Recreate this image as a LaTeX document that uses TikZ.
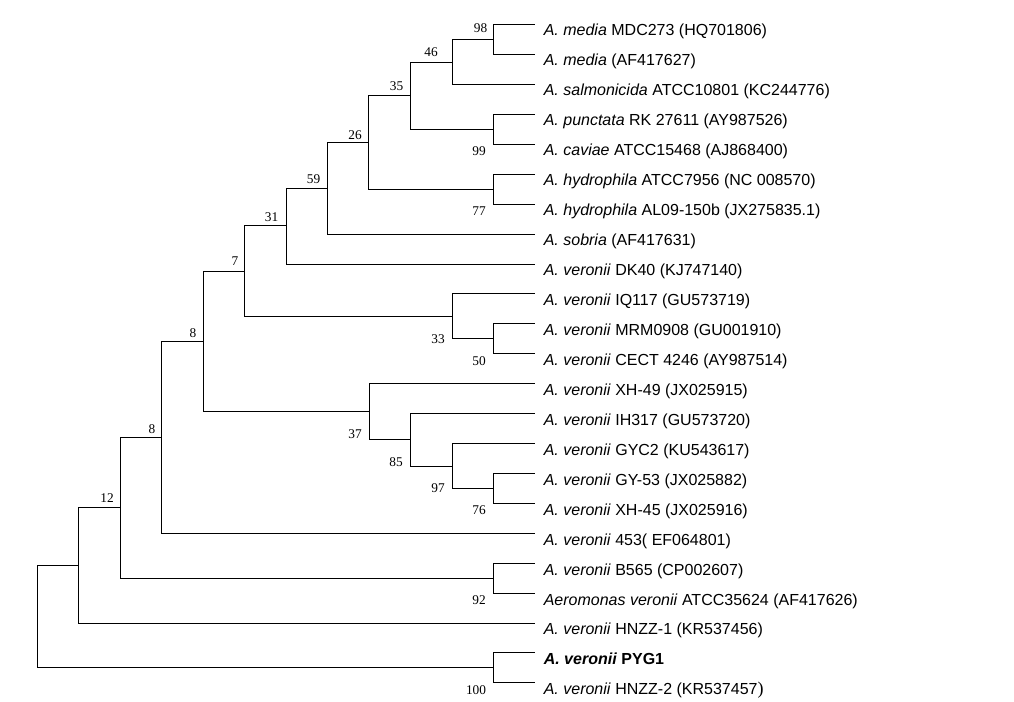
\documentclass[tikz,border=0pt]{standalone}
\usepackage{fontspec}
\setmainfont{Liberation Serif}
\newfontfamily\taxfont{Liberation Sans}
\usepackage{tikz}
\usetikzlibrary{positioning}
\usepackage{xcolor}
\definecolor{treeblack}{RGB}{0,0,0}
\tikzstyle{branch} = [line width=0.75pt, color=treeblack]
\tikzstyle{taxon} = [anchor=base west, inner sep=0pt, xshift=6.4pt, yshift=-8.8pt, font=\taxfont\fontsize{12}{14}\selectfont]
\tikzstyle{boot} = [inner sep=0pt, font=\fontsize{10}{12}\selectfont]

\begin{document}
\begin{tikzpicture}[x=0.75pt, y=-0.75pt]
\useasboundingbox (0,0) rectangle (1014,701);

% leaf tips
\coordinate (l1) at (535,24);
\coordinate (l2) at (535,54);
\coordinate (l3) at (535,84);
\coordinate (l4) at (535,114);
\coordinate (l5) at (535,144);
\coordinate (l6) at (535,174);
\coordinate (l7) at (535,204);
\coordinate (l8) at (535,234);
\coordinate (l9) at (535,264);
\coordinate (l10) at (535,293.5);
\coordinate (l11) at (535,323.5);
\coordinate (l12) at (535,353.5);
\coordinate (l13) at (535,383.3);
\coordinate (l14) at (535,413.3);
\coordinate (l15) at (535,443.3);
\coordinate (l16) at (535,473.3);
\coordinate (l17) at (535,503.3);
\coordinate (l18) at (535,533.3);
\coordinate (l19) at (535,563.3);
\coordinate (l20) at (535,593.3);
\coordinate (l21) at (535,623);
\coordinate (l22) at (535,652.3);
\coordinate (l23) at (535,682.3);

% taxon names
\node[taxon] (t1) at (l1) {\textit{A. media} MDC273 (HQ701806)};
\node[taxon] (t2) at (l2) {\textit{A. media} (AF417627)};
\node[taxon] (t3) at (l3) {\textit{A. salmonicida} ATCC10801 (KC244776)};
\node[taxon] (t4) at (l4) {\textit{A. punctata} RK 27611 (AY987526)};
\node[taxon] (t5) at (l5) {\textit{A. caviae} ATCC15468 (AJ868400)};
\node[taxon] (t6) at (l6) {\textit{A. hydrophila} ATCC7956 (NC 008570)};
\node[taxon] (t7) at (l7) {\textit{A. hydrophila} AL09-150b (JX275835.1)};
\node[taxon] (t8) at (l8) {\textit{A. sobria} (AF417631)};
\node[taxon] (t9) at (l9) {\textit{A. veronii} DK40 (KJ747140)};
\node[taxon] (t10) at (l10) {\textit{A. veronii} IQ117 (GU573719)};
\node[taxon] (t11) at (l11) {\textit{A. veronii} MRM0908 (GU001910)};
\node[taxon] (t12) at (l12) {\textit{A. veronii} CECT 4246 (AY987514)};
\node[taxon] (t13) at (l13) {\textit{A. veronii} XH-49 (JX025915)};
\node[taxon] (t14) at (l14) {\textit{A. veronii} IH317 (GU573720)};
\node[taxon] (t15) at (l15) {\textit{A. veronii} GYC2 (KU543617)};
\node[taxon] (t16) at (l16) {\textit{A. veronii} GY-53 (JX025882)};
\node[taxon] (t17) at (l17) {\textit{A. veronii} XH-45 (JX025916)};
\node[taxon] (t18) at (l18) {\textit{A. veronii} 453( EF064801)};
\node[taxon] (t19) at (l19) {\textit{A. veronii} B565 (CP002607)};
\node[taxon] (t20) at (l20) {\textit{Aeromonas veronii} ATCC35624 (AF417626)};
\node[taxon] (t21) at (l21) {\textit{A. veronii} HNZZ-1 (KR537456)};
\node[taxon] (t22) at (l22) {\textbf{\textit{A. veronii} PYG1}};
\node[taxon] (t23) at (l23) {\textit{A. veronii} HNZZ-2 (KR537457{\rmfamily\fontsize{13.5}{15}\selectfont )}};

% internal nodes
\coordinate (n98) at (493.3,39);
\coordinate (n46) at (452.3,62);
\coordinate (n99) at (493.3,129);
\coordinate (n35) at (410.3,95);
\coordinate (n77) at (493.3,189);
\coordinate (n26) at (368.3,142);
\coordinate (n59) at (327.3,188);
\coordinate (n31) at (286.3,225);
\coordinate (n50) at (493.3,338.5);
\coordinate (n33) at (452.3,316.3);
\coordinate (n7) at (244.7,271.3);
\coordinate (n76) at (493.3,488.3);
\coordinate (n97) at (452.3,466);
\coordinate (n85) at (410.3,439.3);
\coordinate (n37) at (369,411.3);
\coordinate (n8a) at (203.3,341.3);
\coordinate (n8b) at (161.3,437.3);
\coordinate (n92) at (493.3,578.3);
\coordinate (n12) at (120.3,507.3);
\coordinate (nout) at (78.3,565.3);
\coordinate (n100) at (493.3,667.3);
\coordinate (root) at (37.3,616.3);

% branches
\draw[branch] (n98) |- (l1);
\draw[branch] (n98) |- (l2);
\draw[branch] (n46) |- (n98);
\draw[branch] (n46) |- (l3);
\draw[branch] (n99) |- (l4);
\draw[branch] (n99) |- (l5);
\draw[branch] (n35) |- (n46);
\draw[branch] (n35) |- (n99);
\draw[branch] (n77) |- (l6);
\draw[branch] (n77) |- (l7);
\draw[branch] (n26) |- (n35);
\draw[branch] (n26) |- (n77);
\draw[branch] (n59) |- (n26);
\draw[branch] (n59) |- (l8);
\draw[branch] (n31) |- (n59);
\draw[branch] (n31) |- (l9);
\draw[branch] (n50) |- (l11);
\draw[branch] (n50) |- (l12);
\draw[branch] (n33) |- (l10);
\draw[branch] (n33) |- (n50);
\draw[branch] (n7) |- (n31);
\draw[branch] (n7) |- (n33);
\draw[branch] (n76) |- (l16);
\draw[branch] (n76) |- (l17);
\draw[branch] (n97) |- (l15);
\draw[branch] (n97) |- (n76);
\draw[branch] (n85) |- (l14);
\draw[branch] (n85) |- (n97);
\draw[branch] (n37) |- (l13);
\draw[branch] (n37) |- (n85);
\draw[branch] (n8a) |- (n7);
\draw[branch] (n8a) |- (n37);
\draw[branch] (n8b) |- (n8a);
\draw[branch] (n8b) |- (l18);
\draw[branch] (n92) |- (l19);
\draw[branch] (n92) |- (l20);
\draw[branch] (n12) |- (n8b);
\draw[branch] (n12) |- (n92);
\draw[branch] (nout) |- (n12);
\draw[branch] (nout) |- (l21);
\draw[branch] (n100) |- (l22);
\draw[branch] (n100) |- (l23);
\draw[branch] (root) |- (nout);
\draw[branch] (root) |- (n100);

% bootstrap values
\node[boot] (b98) at (480.5,28.5) {98};
\node[boot] (b46) at (431,52) {46};
\node[boot] (b35) at (396.5,86.5) {35};
\node[boot] (b99) at (479,151) {99};
\node[boot] (b26) at (355,135.5) {26};
\node[boot] (b77) at (479,211) {77};
\node[boot] (b59) at (313.5,179.5) {59};
\node[boot] (b31) at (271.5,216.7) {31};
\node[boot] (b7) at (235,261) {7};
\node[boot] (b33) at (438,338.7) {33};
\node[boot] (b50) at (479,361.5) {50};
\node[boot] (b8a) at (193,333.5) {8};
\node[boot] (b37) at (355,434) {37};
\node[boot] (b85) at (396,462) {85};
\node[boot] (b8b) at (152,429.5) {8};
\node[boot] (b97) at (438,488) {97};
\node[boot] (b76) at (479,510) {76};
\node[boot] (b12) at (107,498) {12};
\node[boot] (b92) at (479,600) {92};
\node[boot] (b100) at (476,690) {100};
\end{tikzpicture}
\end{document}
